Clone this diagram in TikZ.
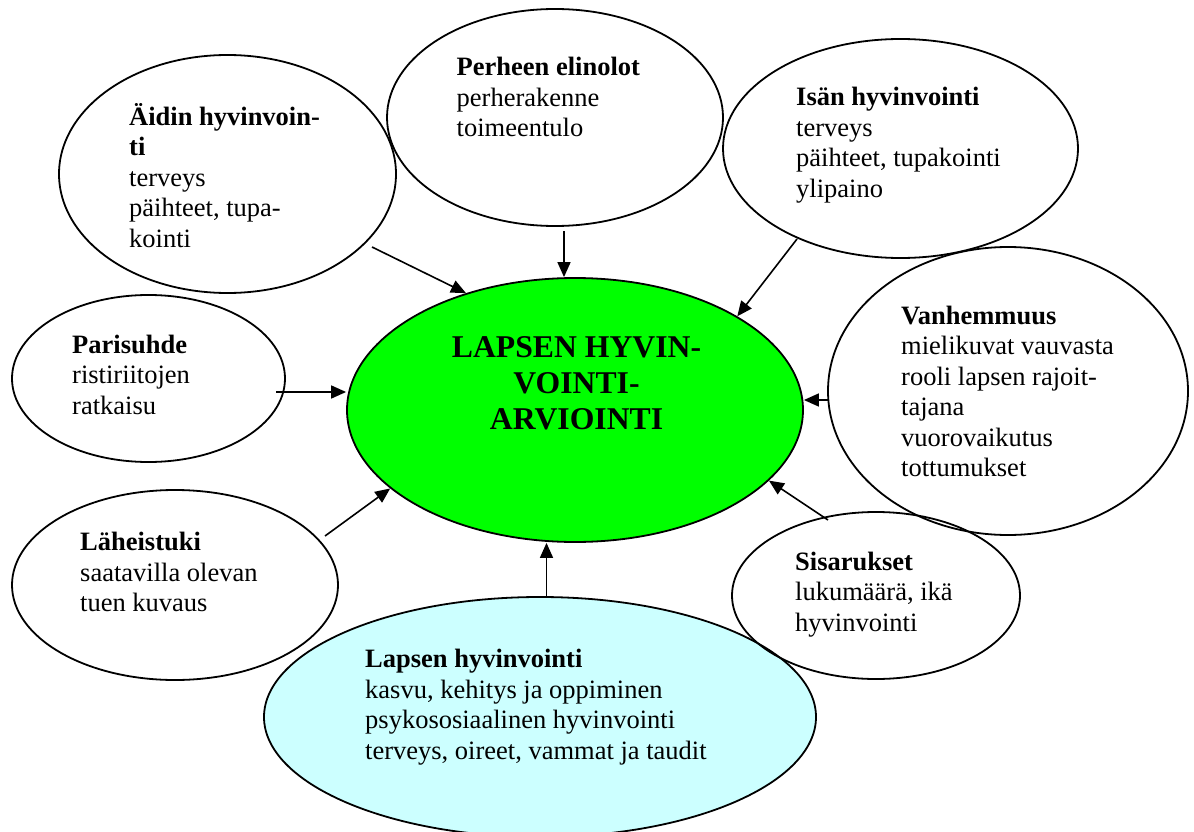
\documentclass[tikz,border=0pt]{standalone}
\usepackage{fontspec}
\setmainfont{Liberation Serif}
\usetikzlibrary{shapes.geometric,arrows.meta}
\definecolor{titlegreen}{HTML}{00FF00}
\definecolor{childcyan}{HTML}{CCFFFF}
\begin{document}
\begin{tikzpicture}[x=1pt,y=-1pt,
  bubble/.style={ellipse, draw=black, line width=1.8pt, inner sep=0pt},
  % multi-line nodes: the base anchor sits on the last line
  txt/.style={anchor=base west, inner sep=0pt, align=left,
    font=\fontsize{26.5}{30.5}\selectfont},
  arr/.style={line width=1.6pt, -{Triangle[length=15pt,width=13pt]}}
]
\useasboundingbox (0,0) rectangle (1194,832);

% outer bubbles
\node[bubble, fill=childcyan, minimum width=552pt, minimum height=240pt] (lapsi) at (540,717) {};
\node[bubble, minimum width=337pt, minimum height=238pt] (aiti) at (227.5,174) {};
\node[bubble, minimum width=336pt, minimum height=217pt] (perhe) at (555,117.5) {};
\node[bubble, minimum width=355pt, minimum height=219pt] (isa) at (900.5,148.5) {};
\node[bubble, minimum width=273pt, minimum height=167pt] (pari) at (148.5,378.5) {};
\node[bubble, minimum width=360pt, minimum height=288pt] (vanh) at (1008,391) {};
\node[bubble, minimum width=326pt, minimum height=190pt] (lahi) at (175,585) {};
\node[bubble, minimum width=288pt, minimum height=167pt] (sisar) at (876,595.5) {};

% central bubble
\node[bubble, fill=titlegreen, minimum width=456pt, minimum height=264pt] (keskus) at (575,410) {};

% texts (positions are the baselines of the last lines)
\node[txt] (aitit) at (129,247) {\textbf{Äidin hyvinvoin-}\\\textbf{ti}\\terveys\\päihteet, tupa-\\kointi};
\node[txt] (perhet) at (456.5,137) {\textbf{Perheen elinolot}\\perherakenne\\toimeentulo};
\node[txt] (isat) at (796,197) {\textbf{Isän hyvinvointi}\\terveys\\päihteet, tupakointi\\ylipaino};
\node[txt] (parit) at (72,414) {\textbf{Parisuhde}\\ristiriitojen\\ratkaisu};
\node[txt] (vanht) at (901,476.5) {\textbf{Vanhemmuus}\\mielikuvat vauvasta\\rooli lapsen rajoit-\\tajana\\vuorovaikutus\\tottumukset};
\node[txt] (lahit) at (80,611.5) {\textbf{Läheistuki}\\saatavilla olevan\\tuen kuvaus};
\node[txt] (sisart) at (795,631) {\textbf{Sisarukset}\\lukumäärä, ikä\\hyvinvointi};
\node[txt] (lapsit) at (365,759) {\textbf{Lapsen hyvinvointi}\\kasvu, kehitys ja oppiminen\\psykososiaalinen hyvinvointi\\terveys, oireet, vammat ja taudit};
\node[anchor=base, inner sep=0pt, align=center,
  font=\fontsize{31.7}{36}\selectfont\bfseries] (keskust) at (576.5,429)
  {LAPSEN HYVIN-\\VOINTI-\\ARVIOINTI};

% arrow tails
\coordinate (aiti0) at (372,247);
\coordinate (perhe0) at (564,231);
\coordinate (isa0) at (797,239);
\coordinate (pari0) at (276,392);
\coordinate (vanh0) at (828,400);
\coordinate (lahi0) at (325,536);
\coordinate (lapsi0) at (546.5,597);
\coordinate (sisar0) at (828,520);

% arrows into the centre
\draw[arr] (aiti0) -- (keskus.133.2);
\draw[arr] (perhe0) -- (perhe0 |- keskus.north);
\draw[arr] (isa0) -- (keskus.30.1);
\draw[arr] (pari0) -- (pari0 -| keskus.west);
\draw[arr] (vanh0) -- (vanh0 -| keskus.east);
\draw[arr] (lahi0) -- (keskus.203.3);
\draw[arr] (lapsi0) -- (lapsi0 |- keskus.south);
\draw[arr] (sisar0) -- (keskus.340.9);
\end{tikzpicture}
\end{document}
